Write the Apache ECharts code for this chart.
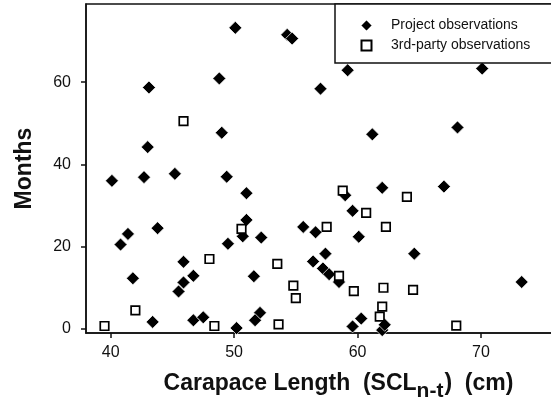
<!DOCTYPE html>
<html>
<head>
<meta charset="utf-8">
<title>Months vs carapace length</title>
<script src="https://cdn.jsdelivr.net/npm/echarts@6/dist/echarts.min.js"></script>
<style>
  html, body { margin: 0; padding: 0; background: #fff; }
  #chart { width: 551px; height: 404px; }
</style>
</head>
<body>
<div id="chart"></div>
<script>
// [carapace length (cm), months]
var projectObs = [
  [43.1, 58.7], [48.8, 60.9], [49.0, 47.7], [43.0, 44.2], [50.1, 73.2], [54.3, 71.5],
  [54.7, 70.6], [59.2, 62.9], [57.0, 58.4], [61.2, 47.3], [70.1, 63.3], [68.1, 49.0],
  [40.1, 36.0], [42.7, 36.9], [45.2, 37.7], [49.4, 37.0], [43.8, 24.5], [41.4, 23.1],
  [40.8, 20.5], [49.5, 20.7], [45.9, 16.3], [46.7, 12.9], [45.9, 11.3], [45.5, 9.1],
  [41.8, 12.3], [43.4, 1.7], [46.7, 2.1], [47.5, 2.8], [51.0, 33.0], [59.0, 32.5],
  [62.0, 34.3], [59.6, 28.7], [51.0, 26.5], [50.7, 22.5], [55.6, 24.8], [56.6, 23.5],
  [60.1, 22.4], [52.2, 22.2], [57.4, 18.3], [56.4, 16.4], [57.2, 14.7], [57.7, 13.3],
  [58.5, 11.4], [51.6, 12.8], [62.0, -0.3], [62.2, 1.0], [52.1, 3.9], [51.7, 2.1],
  [50.2, 0.2], [59.6, 0.6], [60.3, 2.5], [67.0, 34.6], [64.6, 18.3], [73.3, 11.4]
];
var thirdPartyObs = [
  [45.9, 50.5], [48.0, 17.0], [42.0, 4.5], [39.5, 0.7], [48.4, 0.7], [58.8, 33.6],
  [60.7, 28.2], [50.6, 24.3], [57.5, 24.8], [62.3, 24.8], [53.5, 15.8], [58.5, 12.9],
  [54.8, 10.5], [55.0, 7.5], [59.7, 9.2], [62.1, 10.0], [62.0, 5.4], [61.8, 3.0],
  [53.6, 1.1], [64.0, 32.1], [64.5, 9.5], [68.0, 0.8]
];
var xTicks = [40, 50, 60, 70];
var yTicks = [0, 20, 40, 60];

var font = '"Liberation Sans", Arial, sans-serif';
var ink = '#111';

var chart = echarts.init(document.getElementById('chart'), null, {renderer: 'canvas'});
chart.setOption({
  animation: false,
  backgroundColor: '#fff',
  textStyle: {fontFamily: font},
  grid: {
    left: 86, right: -4, top: 4, bottom: 71,
    outerBoundsMode: 'none',
    show: true, borderColor: ink, borderWidth: 1.5
  },
  legend: {
    orient: 'vertical',
    left: 335, top: 4,
    padding: [14, 30, 10, 24],
    itemWidth: 13, itemHeight: 13, itemGap: 5,
    borderColor: ink, borderWidth: 1.5,
    backgroundColor: '#fff',
    textStyle: {fontSize: 14, color: ink, fontFamily: font, padding: [0, 0, 0, 13]},
    data: [
      {name: 'Project observations', icon: 'diamond'},
      // square drawn 10px inside a 13px box
      {name: '3rd-party observations', icon: 'path://M0,0M13,13M1.5,1.5h10v10h-10z'}
    ]
  },
  xAxis: {
    type: 'value', min: 38, max: 76,
    name: '{a|Carapace Length  (SCL}{s|n-t}{a|)  (cm)}',
    nameLocation: 'middle', nameGap: 35,
    nameTextStyle: {
      padding: [0, 0, 0, 36],
      rich: {
        a: {fontSize: 23, fontWeight: 'bold', color: ink, fontFamily: font, lineHeight: 26},
        s: {fontSize: 21, fontWeight: 'bold', color: ink, fontFamily: font, lineHeight: 20, padding: [15, 1, 0, 0]}
      }
    },
    axisLine: {onZero: false, lineStyle: {color: ink, width: 1.5}},
    axisTick: {show: true, length: 5, customValues: xTicks, lineStyle: {color: ink, width: 1.5}},
    axisLabel: {customValues: xTicks, margin: 12, fontSize: 16, color: ink, fontFamily: font},
    splitLine: {show: false}
  },
  yAxis: {
    type: 'value', min: -1, max: 79,
    name: 'Months',
    nameLocation: 'middle', nameGap: 50,
    nameTextStyle: {fontSize: 23, fontWeight: 'bold', color: ink, fontFamily: font},
    axisLine: {show: true, onZero: false, lineStyle: {color: ink, width: 1.5}},
    axisTick: {show: true, length: 5, customValues: yTicks, lineStyle: {color: ink, width: 1.5}},
    axisLabel: {customValues: yTicks, margin: 15, fontSize: 16, color: ink, fontFamily: font},
    splitLine: {show: false}
  },
  series: [
    {
      name: 'Project observations',
      type: 'scatter',
      z: 2,
      symbol: 'diamond',
      symbolSize: 13,
      itemStyle: {color: '#000', borderColor: '#fff', borderWidth: 0.7, opacity: 1},
      data: projectObs
    },
    {
      name: '3rd-party observations',
      type: 'scatter',
      z: 3,
      symbol: 'rect',
      symbolSize: 8.5,
      itemStyle: {color: '#fff', borderColor: '#000', borderWidth: 1.7, opacity: 1},
      data: thirdPartyObs
    }
  ]
});
</script>
</body>
</html>
